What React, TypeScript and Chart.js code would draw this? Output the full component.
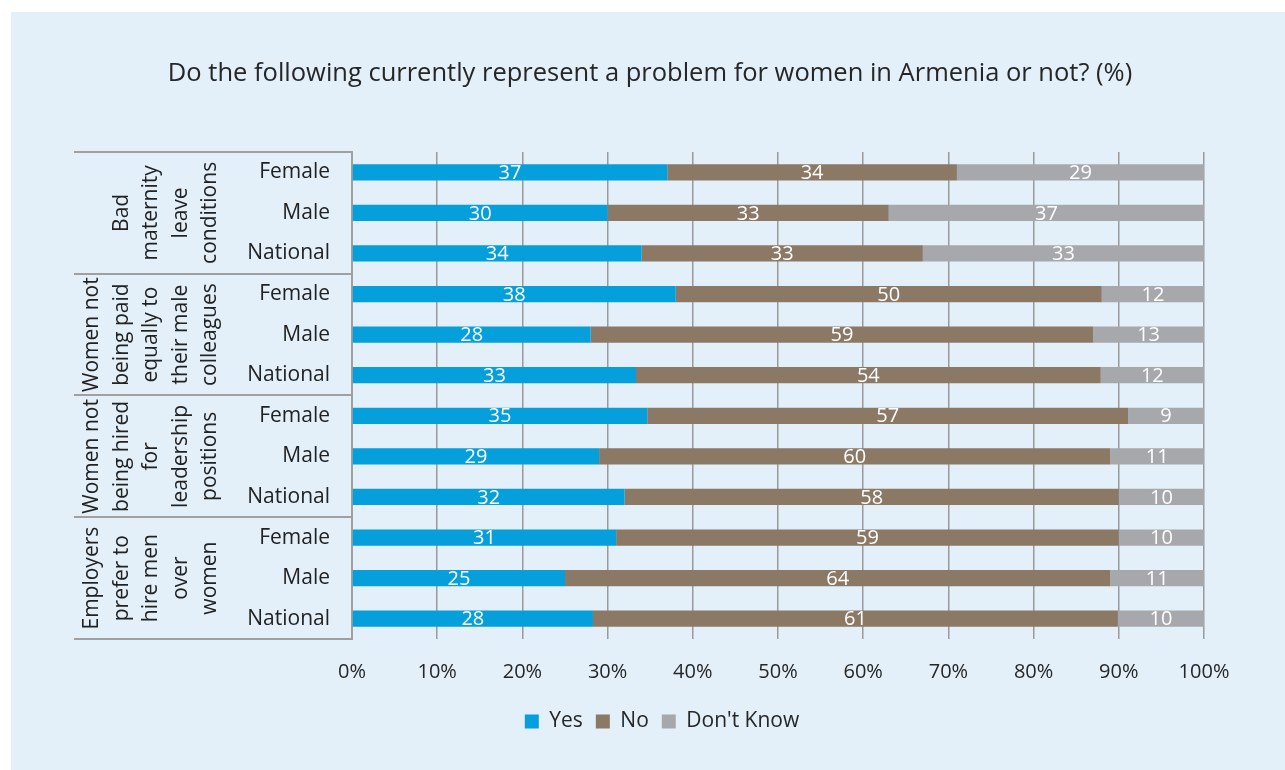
import React, { useEffect, useRef } from "react";
import { Chart, registerables } from "chart.js";

Chart.register(...registerables);

const titleText = "Do the following currently represent a problem for women in Armenia or not? (%)";
const groups: string[][] = [
  ["Bad", "maternity", "leave", "conditions"],
  ["Women not", "being paid", "equally to", "their male", "colleagues"],
  ["Women not", "being hired", "for", "leadership", "positions"],
  ["Employers", "prefer to", "hire men", "over", "women"],
];
const respondents = ["Female", "Male", "National"];
const seriesNames = ["Yes", "No", "Don't Know"];
const yesValues = [37, 30, 34, 38, 28, 33, 35, 29, 32, 31, 25, 28];
const noValues = [34, 33, 33, 50, 59, 54, 57, 60, 58, 59, 64, 61];
const dkValues = [29, 37, 33, 12, 13, 12, 9, 11, 10, 10, 11, 10];
const xTicks = [0, 10, 20, 30, 40, 50, 60, 70, 80, 90, 100];

const colors = ["#059FDB", "#8B7966", "#A7A8AB"];
const FONT = "'Open Sans', 'Noto Sans', sans-serif";

export default function App() {
  const ref = useRef<HTMLCanvasElement | null>(null);

  useEffect(() => {
    if (!ref.current) return;
    const labels: string[] = [];
    groups.forEach(() => respondents.forEach((r) => labels.push(r)));
    const raw = [yesValues, noValues, dkValues];
    const sums = yesValues.map((_, i) => yesValues[i] + noValues[i] + dkValues[i]);

    const valueLabels = {
      id: "valueLabels",
      afterDatasetsDraw(chart: any) {
        const ctx = chart.ctx;
        ctx.save();
        ctx.fillStyle = "#ffffff";
        ctx.font = `20px ${FONT}`;
        ctx.textAlign = "center";
        ctx.textBaseline = "middle";
        chart.data.datasets.forEach((ds: any, di: number) => {
          const meta = chart.getDatasetMeta(di);
          meta.data.forEach((el: any, i: number) => {
            const p = el.getProps(["x", "y", "base"], true);
            ctx.fillText(String(raw[di][i]), (p.x + p.base) / 2, p.y + 1);
          });
        });
        ctx.restore();
      },
    };

    const decor = {
      id: "decor",
      afterDraw(chart: any) {
        const ctx = chart.ctx;
        const yScale = chart.scales.y;
        const area = chart.chartArea;
        ctx.save();
        // title
        ctx.fillStyle = "#262626";
        ctx.font = `25.5px ${FONT}`;
        ctx.textAlign = "center";
        ctx.textBaseline = "middle";
        ctx.fillText(titleText, 639, 62);
        // separators
        ctx.strokeStyle = "#A0A0A0";
        ctx.lineWidth = 2;
        const half = (yScale.getPixelForValue(1) - yScale.getPixelForValue(0)) / 2;
        for (let g = 0; g <= groups.length; g++) {
          const yy = g < groups.length ? yScale.getPixelForValue(g * 3) - half : yScale.getPixelForValue(groups.length * 3 - 1) + half;
          ctx.beginPath();
          ctx.moveTo(63, Math.round(yy));
          ctx.lineTo(area.left, Math.round(yy));
          ctx.stroke();
        }
        // group labels
        ctx.fillStyle = "#222222";
        ctx.font = `21px ${FONT}`;
        groups.forEach((lines, g) => {
          const cy = (yScale.getPixelForValue(g * 3) + yScale.getPixelForValue(g * 3 + 2)) / 2;
          const lastX = 199;
          const step = 29.4;
          lines.forEach((line, k) => {
            const cx = lastX - (lines.length - 1 - k) * step;
            ctx.save();
            ctx.translate(cx, cy);
            ctx.rotate(-Math.PI / 2);
            ctx.fillText(line, 0, 0);
            ctx.restore();
          });
        });
        ctx.restore();
      },
    };

    const chart = new Chart(ref.current, {
      type: "bar",
      data: {
        labels,
        datasets: raw.map((vals, di) => ({
          label: seriesNames[di],
          data: vals.map((v, i) => (v / sums[i]) * 100),
          backgroundColor: colors[di],
          borderWidth: 0,
          barPercentage: 0.4,
          categoryPercentage: 1,
        })),
      },
      options: {
        indexAxis: "y",
        animation: false,
        responsive: false,
        devicePixelRatio: 1,
        layout: { padding: { left: 109, right: 81, top: 140, bottom: 28 } },
        scales: {
          x: {
            stacked: true,
            min: 0,
            max: 100,
            afterBuildTicks(scale: any) {
              scale.ticks = xTicks.map((v) => ({ value: v }));
            },
            afterFit(scale: any) {
              scale.height = 59;
            },
            grid: { color: "#9A9A9A", lineWidth: 1.5, drawTicks: false },
            border: { display: false },
            ticks: {
              padding: 21,
              color: "#262626",
              font: { family: FONT, size: 20 },
              callback: (v: any) => `${v}%`,
            },
          },
          y: {
            stacked: true,
            afterFit(scale: any) {
              scale.width = 232;
            },
            grid: { display: false, drawTicks: false },
            border: { display: true, color: "#A0A0A0", width: 2 },
            ticks: {
              padding: 22,
              color: "#222222",
              font: { family: FONT, size: 21 },
              autoSkip: false,
            },
          },
        },
        plugins: {
          title: { display: false },
          tooltip: { enabled: false },
          legend: {
            display: true,
            position: "bottom",
            labels: {
              boxWidth: 14,
              boxHeight: 14,
              padding: 13,
              color: "#262626",
              font: { family: FONT, size: 21 },
            },
          },
        },
      } as any,
      plugins: [valueLabels, decor],
    });
    return () => chart.destroy();
  }, []);

  return (
    <div
      style={{
        position: "absolute",
        left: 11,
        top: 12,
        width: 1274,
        height: 758,
        background: "#E3F0F9",
      }}
    >
      <canvas ref={ref} width={1274} height={758} style={{ display: "block" }} />
    </div>
  );
}
